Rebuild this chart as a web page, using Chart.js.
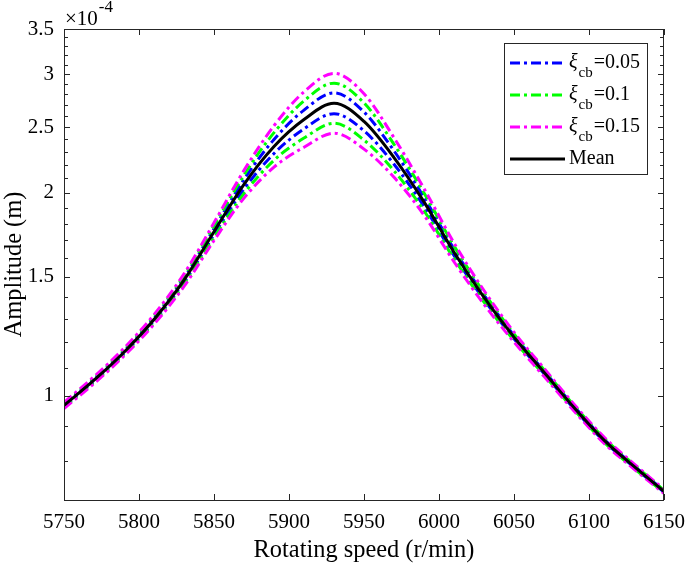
<!DOCTYPE html>
<html>
<head>
<meta charset="utf-8">
<script src="https://cdn.jsdelivr.net/npm/chart.js@4/dist/chart.umd.min.js"></script>
<style>
  body { margin: 0; background: #fff; }
  #wrap { width: 685px; height: 565px; }
</style>
</head>
<body>
<div id="wrap"><canvas id="ampChart" width="685" height="565"></canvas></div>
<script>
// rotating speed (r/min)
const speeds = [5750, 5770, 5790, 5810, 5830, 5850, 5870, 5890, 5910, 5930, 5950,
                5970, 5990, 6010, 6030, 6050, 6070, 6090, 6110, 6130, 6150];

// amplitude, in units of 1e-4 m
const meanAmp    = [0.967, 1.054, 1.160, 1.297, 1.484, 1.751, 2.059, 2.343, 2.569, 2.716, 2.552,
                    2.256, 1.939, 1.632, 1.399, 1.221, 1.083, 0.960, 0.859, 0.785, 0.721];
const blueUpper  = [0.970, 1.058, 1.165, 1.304, 1.495, 1.769, 2.093, 2.400, 2.653, 2.814, 2.635,
                    2.308, 1.969, 1.650, 1.410, 1.228, 1.088, 0.964, 0.862, 0.787, 0.723];
const blueLower  = [0.964, 1.050, 1.155, 1.290, 1.473, 1.733, 2.026, 2.287, 2.488, 2.621, 2.471,
                    2.205, 1.909, 1.614, 1.388, 1.214, 1.078, 0.956, 0.856, 0.783, 0.719];
const greenUpper = [0.974, 1.062, 1.171, 1.312, 1.506, 1.787, 2.125, 2.456, 2.738, 2.909, 2.719,
                    2.360, 1.999, 1.668, 1.421, 1.235, 1.093, 0.967, 0.865, 0.790, 0.724];
const greenLower = [0.960, 1.046, 1.149, 1.283, 1.463, 1.716, 1.995, 2.235, 2.411, 2.536, 2.395,
                    2.156, 1.881, 1.597, 1.377, 1.207, 1.073, 0.953, 0.853, 0.780, 0.718];
const magUpper   = [0.977, 1.067, 1.176, 1.319, 1.516, 1.805, 2.159, 2.515, 2.824, 3.008, 2.805,
                    2.414, 2.029, 1.685, 1.432, 1.242, 1.098, 0.971, 0.868, 0.792, 0.726];
const magLower   = [0.957, 1.042, 1.145, 1.276, 1.452, 1.699, 1.964, 2.183, 2.337, 2.452, 2.322,
                    2.109, 1.853, 1.580, 1.366, 1.201, 1.068, 0.949, 0.850, 0.778, 0.716];

// tick labels
const xTicks = [5750, 5800, 5850, 5900, 5950, 6000, 6050, 6100, 6150];
const yTicks = [1, 1.5, 2, 2.5, 3, 3.5];
const yMinorTicks = [0.8, 0.9, 1.1, 1.2, 1.3, 1.4, 1.6, 1.7, 1.8, 1.9, 2.1, 2.2, 2.3, 2.4,
                     2.6, 2.7, 2.8, 2.9, 3.1, 3.2, 3.3, 3.4];
const xiValues = ['0.05', '0.1', '0.15'];

const SERIF = "'Liberation Serif', 'Times New Roman', serif";
const AXIS = '#262626';
const DASH = [10, 4, 3, 4];

const pts = arr => speeds.map((s, i) => ({ x: s, y: arr[i] }));
const band = (label, arr, color, order, inLegend) => ({
    label, data: pts(arr), borderColor: color, borderWidth: 3, borderDash: DASH,
    pointRadius: 0, fill: false, cubicInterpolationMode: 'monotone', order, inLegend
});

const datasets = [
    band('ξcb=0.05', blueUpper, '#0000ff', 3, true),
    band('ξcb=0.05', blueLower, '#0000ff', 3, false),
    band('ξcb=0.1', greenUpper, '#00ff00', 2, true),
    band('ξcb=0.1', greenLower, '#00ff00', 2, false),
    band('ξcb=0.15', magUpper, '#ff00ff', 1, true),
    band('ξcb=0.15', magLower, '#ff00ff', 1, false),
    { label: 'Mean', data: pts(meanAmp), borderColor: '#000000', borderWidth: 3,
      pointRadius: 0, fill: false, cubicInterpolationMode: 'monotone', order: 0, inLegend: true }
];

const framePlugin = {
    id: 'frame',
    afterDraw(chart) {
        const { ctx, chartArea: a, scales } = chart;
        const xs = scales.x, ys = scales.y;
        ctx.save();
        ctx.strokeStyle = AXIS;
        ctx.lineWidth = 1;
        ctx.strokeRect(a.left + 0.5, a.top + 0.5, a.right - a.left - 1, a.bottom - a.top);
        ctx.beginPath();
        xTicks.forEach(v => {
            const px = Math.round(xs.getPixelForValue(v)) + 0.5;
            ctx.moveTo(px, a.bottom); ctx.lineTo(px, a.bottom - 6);
            ctx.moveTo(px, a.top); ctx.lineTo(px, a.top + 6);
        });
        yTicks.concat(yMinorTicks).forEach(v => {
            const len = yTicks.includes(v) ? 6 : 4;
            const py = Math.round(ys.getPixelForValue(v)) + 0.5;
            ctx.moveTo(a.left, py); ctx.lineTo(a.left + len, py);
            ctx.moveTo(a.right, py); ctx.lineTo(a.right - len, py);
        });
        ctx.stroke();

        // exponent label
        ctx.fillStyle = '#000';
        ctx.textBaseline = 'middle';
        ctx.textAlign = 'left';
        ctx.font = '21px ' + SERIF;
        ctx.fillText('×10', a.left + 1, 19);
        const w = ctx.measureText('×10').width;
        ctx.font = '17px ' + SERIF;
        ctx.fillText('-4', a.left + 2 + w, 8);

        // legend
        const bx = 504.5, by = 43.5, bw = 143, bh = 131;
        ctx.fillStyle = '#fff';
        ctx.fillRect(bx, by, bw, bh);
        ctx.strokeStyle = AXIS;
        ctx.strokeRect(bx, by, bw, bh);
        const entries = chart.data.datasets.filter(d => d.inLegend);
        entries.forEach((d, i) => {
            const y = 63 + i * 32;
            ctx.save();
            ctx.strokeStyle = d.borderColor;
            ctx.lineWidth = 3;
            ctx.setLineDash(d.borderDash || []);
            ctx.beginPath();
            ctx.moveTo(510, y); ctx.lineTo(565, y);
            ctx.stroke();
            ctx.restore();
            ctx.fillStyle = '#000';
            ctx.textBaseline = 'middle';
            let tx = 569;
            if (i < xiValues.length) {
                ctx.font = 'italic 20px ' + SERIF;
                ctx.fillText('ξ', tx, y);
                tx += ctx.measureText('ξ').width + 1;
                ctx.font = '15px ' + SERIF;
                ctx.fillText('cb', tx, y + 10);
                tx += ctx.measureText('cb').width + 1;
                ctx.font = '20px ' + SERIF;
                ctx.fillText('=' + xiValues[i], tx, y);
            } else {
                ctx.font = '20px ' + SERIF;
                ctx.fillText(d.label, tx, y);
            }
        });
        ctx.restore();
    }
};

new Chart(document.getElementById('ampChart').getContext('2d'), {
    type: 'line',
    data: { datasets },
    options: {
        responsive: false,
        animation: false,
        layout: { padding: { top: 29, right: 21, left: 0, bottom: 0 } },
        plugins: { legend: { display: false }, tooltip: { enabled: false } },
        scales: {
            x: {
                type: 'linear', min: 5750, max: 6150,
                afterFit: s => { s.height = 65; s.paddingLeft = 0; s.paddingRight = 0; },
                afterBuildTicks: s => { s.ticks = xTicks.map(v => ({ value: v })); },
                grid: { display: false, drawTicks: false },
                border: { display: false },
                ticks: { padding: 10, color: '#000', font: { family: SERIF, size: 21 },
                         maxRotation: 0, callback: v => String(v) },
                title: { display: true, text: 'Rotating speed (r/min)', color: '#000',
                         font: { family: SERIF, size: 24.4 }, padding: { top: 0, bottom: 0 } }
            },
            y: {
                type: 'logarithmic', min: 0.714, max: 3.5,
                afterFit: s => { s.width = 64; s.paddingTop = 0; s.paddingBottom = 0; },
                afterBuildTicks: s => { s.ticks = yTicks.map(v => ({ value: v })); },
                grid: { display: false, drawTicks: false },
                border: { display: false },
                ticks: { padding: 10, color: '#000', font: { family: SERIF, size: 21 },
                         callback: v => String(v) },
                title: { display: true, text: 'Amplitude (m)', color: '#000',
                         font: { family: SERIF, size: 24.4 }, padding: { top: 0, bottom: 0 } }
            }
        }
    },
    plugins: [framePlugin]
});
</script>
</body>
</html>
